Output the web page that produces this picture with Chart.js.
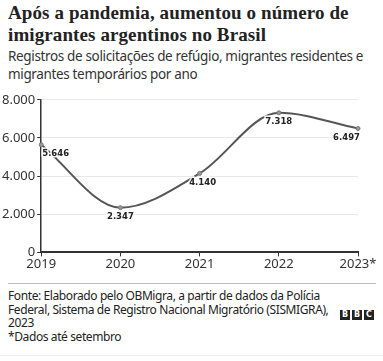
<!DOCTYPE html>
<html>
<head>
<meta charset="utf-8">
<script src="https://cdn.jsdelivr.net/npm/chart.js@4/dist/chart.umd.min.js"></script>
<style>
  html, body { margin: 0; padding: 0; background: #fff; }
  body { width: 383px; height: 361px; overflow: hidden; position: relative; font-family: "Noto Sans", sans-serif; color: #222; }
  #title { position: absolute; left: 8px; top: 2px; width: 375px; font-family: "Liberation Serif", serif; font-weight: bold; font-size: 19px; line-height: 22px; letter-spacing: 0.1px; color: #222; }
  #subtitle { position: absolute; left: 8px; top: 47px; width: 375px; font-size: 13.5px; line-height: 18px; letter-spacing: -0.35px; color: #333; }
  #wrap { position: absolute; left: 0; top: 90px; width: 383px; height: 182px; }
  #rule { position: absolute; left: 8px; top: 283px; width: 368px; height: 1px; background: #bbb; }
  #footer { position: absolute; left: 8px; top: 289px; width: 332px; font-size: 12px; line-height: 13.5px; letter-spacing: -0.4px; color: #222; }
  #bbc { position: absolute; left: 340px; top: 310px; display: flex; gap: 2px; }
  #bbc span { width: 10px; height: 10px; background: #222; color: #fff; font: bold 8px "DejaVu Sans", sans-serif; line-height: 10px; text-align: center; }
  #bottomrule { position: absolute; left: 0; top: 355px; width: 383px; height: 1px; background: #eee; }
</style>
</head>
<body>
<div id="title">Após a pandemia, aumentou o número de imigrantes argentinos no Brasil</div>
<div id="subtitle">Registros de solicitações de refúgio, migrantes residentes e migrantes temporários por ano</div>
<div id="wrap"><canvas id="chart"></canvas></div>
<div id="rule"></div>
<div id="footer">Fonte: Elaborado pelo OBMigra, a partir de dados da Polícia Federal, Sistema de Registro Nacional Migratório (SISMIGRA), 2023<br>*Dados até setembro</div>
<div id="bbc"><span>B</span><span>B</span><span>C</span></div>
<div id="bottomrule"></div>
<script>
// dados
const years = ['2019', '2020', '2021', '2022', '2023*'];
const migrants = [5646, 2347, 4140, 7318, 6497];
const yTicks = [0, 2000, 4000, 6000, 8000];

const fmt = v => v.toLocaleString('pt-BR');

// rótulos de valor abaixo de cada ponto
const valueLabels = {
  id: 'valueLabels',
  afterDatasetsDraw(chart) {
    const ctx = chart.ctx;
    const meta = chart.getDatasetMeta(0);
    ctx.save();
    ctx.font = 'bold 8.5px "DejaVu Sans", sans-serif';
    ctx.textBaseline = 'middle';
    meta.data.forEach((pt, i) => {
      let x = pt.x;
      ctx.textAlign = 'center';
      if (i === 0) { ctx.textAlign = 'left'; x += 1; }
      if (i === meta.data.length - 1) { ctx.textAlign = 'right'; x += 2; }
      if (i === 2) x += 3;
      const txt = fmt(migrants[i]);
      ctx.lineWidth = 3;
      ctx.strokeStyle = 'rgba(255,255,255,0.9)';
      ctx.strokeText(txt, x, pt.y + 9);
      ctx.fillStyle = '#222';
      ctx.fillText(txt, x, pt.y + 9);
    });
    ctx.restore();
  }
};

new Chart(document.getElementById('chart'), {
  type: 'line',
  data: {
    labels: years,
    datasets: [{
      data: migrants,
      borderColor: '#555',
      borderWidth: 2,
      cubicInterpolationMode: 'monotone',
      pointRadius: 2,
      pointBackgroundColor: '#999',
      pointBorderColor: '#777',
      pointBorderWidth: 1
    }]
  },
  options: {
    responsive: true,
    maintainAspectRatio: false,
    animation: false,
    locale: 'pt-BR',
    layout: { padding: { top: 4, right: 25, left: 0, bottom: 0 } },
    plugins: { legend: { display: false }, tooltip: { enabled: false } },
    scales: {
      x: {
        offset: false,
        grid: { drawOnChartArea: false, tickColor: '#333', tickLength: 4, tickWidth: 1 },
        border: { color: '#333', width: 2 },
        ticks: { color: '#333', font: { size: 13, family: '"Noto Sans", sans-serif' }, padding: 0, maxRotation: 0 }
      },
      y: {
        min: 0,
        max: 8000,
        afterBuildTicks: axis => { axis.ticks = yTicks.map(v => ({ value: v })); },
        grid: { color: '#e8e8e8', tickColor: '#333', tickLength: 4 },
        border: { color: '#333', width: 1.5 },
        ticks: { color: '#333', font: { size: 13, family: '"Noto Sans", sans-serif' }, padding: 2, callback: v => fmt(v) }
      }
    }
  },
  plugins: [valueLabels]
});
</script>
</body>
</html>
